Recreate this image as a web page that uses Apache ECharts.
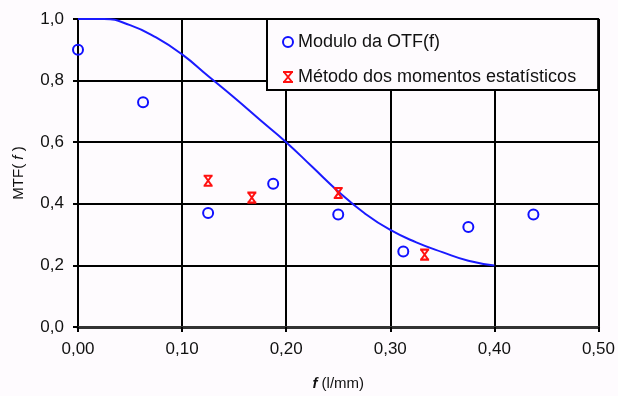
<!DOCTYPE html>
<html>
<head>
<meta charset="utf-8">
<script src="https://cdn.jsdelivr.net/npm/echarts@6/dist/echarts.min.js"></script>
<style>
  html, body { margin: 0; padding: 0; background: #fefbfe; }
  #chart { width: 618px; height: 396px; }
</style>
</head>
<body>
<div id="chart"></div>
<script>
// valores
var otfX = [0, 0.0625, 0.125, 0.1875, 0.25, 0.3125, 0.375, 0.4375];
var otfY = [0.90, 0.73, 0.37, 0.465, 0.365, 0.245, 0.325, 0.365];

var momX = [0.125, 0.167, 0.25, 0.333];
var momY = [0.475, 0.42, 0.435, 0.235];

// curva teorica
var curveX = [0, 0.025, 0.05, 0.075, 0.1, 0.125, 0.15, 0.175, 0.2, 0.225, 0.25, 0.275, 0.3, 0.325, 0.35, 0.375, 0.4];
var curveY = [1.0, 1.0, 0.98, 0.94, 0.885, 0.815, 0.745, 0.672, 0.6, 0.52, 0.44, 0.37, 0.315, 0.275, 0.243, 0.215, 0.2];

var xTicks = [0, 0.1, 0.2, 0.3, 0.4, 0.5];
var yTicks = [0, 0.2, 0.4, 0.6, 0.8, 1.0];

function pairs(xs, ys) {
  return xs.map(function (x, i) { return [x, ys[i]]; });
}

var starPath = 'path://M0,0L10,0M0,10L10,10M1,0L9,10M9,0L1,10';

var chart = echarts.init(document.getElementById('chart'));

var option = {
  backgroundColor: '#fefbfe',
  textStyle: { fontFamily: 'Liberation Sans, Arial, sans-serif' },
  grid: { left: 78, right: 19, top: 19, bottom: 65 },
  xAxis: {
    type: 'value',
    min: xTicks[0], max: xTicks[xTicks.length - 1], interval: 0.1,
    name: '{i|f} (l/mm)',
    nameLocation: 'middle',
    nameGap: 49,
    nameTextStyle: {
      fontSize: 15, color: '#111',
      rich: { i: { fontStyle: 'italic', fontWeight: 'bold', fontSize: 15, color: '#111' } }
    },
    axisLine: { show: true, lineStyle: { color: '#333', width: 3 } },
    axisTick: { show: true, length: 5, lineStyle: { color: '#000', width: 2 } },
    axisLabel: {
      fontSize: 17, color: '#111', margin: 14,
      formatter: function (v) { return v.toFixed(2).replace('.', ','); }
    },
    splitLine: { show: true, lineStyle: { color: '#000', width: 2 } }
  },
  yAxis: {
    type: 'value',
    min: yTicks[0], max: yTicks[yTicks.length - 1], interval: 0.2,
    name: 'MTF( {i|f} )',
    nameLocation: 'middle',
    nameGap: 52,
    nameTextStyle: {
      fontSize: 15, color: '#111',
      rich: { i: { fontStyle: 'italic', fontSize: 15, color: '#111' } }
    },
    axisLine: { show: true, lineStyle: { color: '#000', width: 2 } },
    axisTick: { show: true, length: 5, lineStyle: { color: '#000', width: 2 } },
    axisLabel: {
      fontSize: 17, color: '#111', margin: 14,
      formatter: function (v) { return v.toFixed(1).replace('.', ','); }
    },
    splitLine: { show: true, lineStyle: { color: '#000', width: 2 } }
  },
  legend: {
    orient: 'vertical',
    left: 267, top: 19,
    backgroundColor: '#fefbfe',
    borderColor: '#000',
    borderWidth: 2,
    padding: [14, 22, 4, 15],
    itemGap: 17,
    itemWidth: 10, itemHeight: 10,
    textStyle: { fontSize: 18, color: '#111' },
    data: [
      { name: 'Modulo da OTF(f)', icon: 'circle', itemStyle: { color: 'rgba(0,0,0,0)', borderColor: '#1010ff', borderWidth: 2 } },
      { name: 'Método dos momentos estatísticos', icon: starPath, itemStyle: { color: 'rgba(0,0,0,0)', borderColor: '#ff1010', borderWidth: 2 } }
    ]
  },
  series: [
    {
      name: 'curva',
      type: 'line',
      data: pairs(curveX, curveY),
      smooth: true,
      showSymbol: false,
      lineStyle: { color: '#1a1aff', width: 2 },
      z: 3
    },
    {
      name: 'Modulo da OTF(f)',
      type: 'scatter',
      data: pairs(otfX, otfY),
      symbol: 'circle',
      symbolSize: 10,
      itemStyle: { color: 'rgba(0,0,0,0)', borderColor: '#1010ff', borderWidth: 2, opacity: 1 },
      z: 4
    },
    {
      name: 'Método dos momentos estatísticos',
      type: 'scatter',
      data: pairs(momX, momY),
      symbol: starPath,
      symbolSize: [9, 10],
      itemStyle: { color: 'rgba(0,0,0,0)', borderColor: '#ff1010', borderWidth: 2, opacity: 1 },
      z: 4
    }
  ]
};

chart.setOption(option);
</script>
</body>
</html>
